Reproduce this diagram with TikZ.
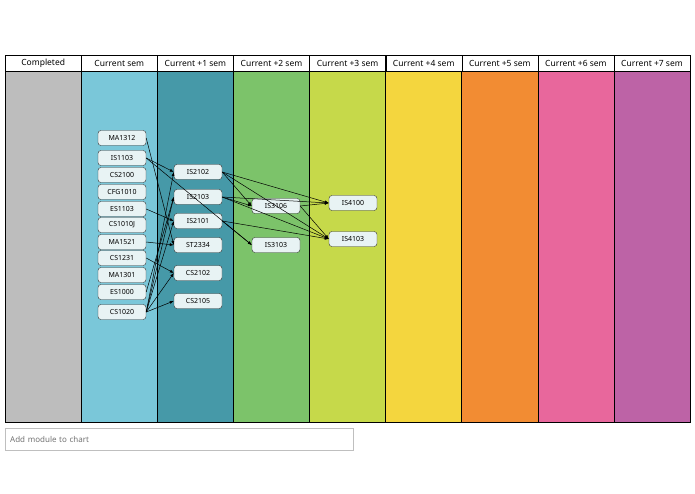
\documentclass[tikz,border=0pt]{standalone}
\usepackage{fontspec}
\setmainfont{Noto Sans}
\usetikzlibrary{arrows.meta}
\definecolor{c1}{HTML}{BDBDBD}\definecolor{c2}{HTML}{7AC7D9}\definecolor{c3}{HTML}{4699A8}
\definecolor{c4}{HTML}{7CC36A}\definecolor{c5}{HTML}{C6D94A}\definecolor{c6}{HTML}{F4D63E}
\definecolor{c7}{HTML}{F28C33}\definecolor{c8}{HTML}{E8679C}\definecolor{c9}{HTML}{BD63A6}
\definecolor{nf}{HTML}{E8F3F4}
\tikzset{mod/.style={draw=black!80,fill=nf,rounded corners=3pt,minimum width=48pt,minimum height=15pt,inner sep=1pt,font=\fontsize{7}{8}\selectfont},
hdr/.style={draw,fill=white,minimum width=76pt,minimum height=16pt,inner sep=0pt,font=\fontsize{8.5}{10}\selectfont},
ed/.style={-{Latex[length=4pt,width=3pt]},black,line width=0.5pt}}
\begin{document}
\begin{tikzpicture}[x=1pt,y=-1pt]
\useasboundingbox[fill=white] (0,0) rectangle (695,494);
\foreach \i/\t in {1/Completed,2/Current sem,3/Current +1 sem,4/Current +2 sem,5/Current +3 sem,6/Current +4 sem,7/Current +5 sem,8/Current +6 sem,9/Current +7 sem}{
  \pgfmathsetmacro\xl{5+(\i-1)*76.1}
  \fill[c\i] (\xl,71) rectangle ++(76.1,351);
  \draw (\xl,71) rectangle ++(76.1,351);
  \node[hdr,anchor=north west] (h\i) at (\xl,55) {\t};
}
\foreach \n/\y in {MA1312/138,IS1103/158,CS2100/175,CFG1010/192,ES1103/209,CS1010J/225,MA1521/242,CS1231/258,MA1301/275,ES1000/292,CS1020/312}
  \node[mod] (\n) at (122,\y) {\n};
\foreach \n/\y in {IS2102/172,IS2103/197,IS2101/221,ST2334/245,CS2102/273,CS2105/301}
  \node[mod] (\n) at (198,\y) {\n};
\foreach \n/\y in {IS3106/206,IS3103/245}
  \node[mod] (\n) at (276,\y) {\n};
\foreach \n/\y in {IS4100/203,IS4103/239}
  \node[mod] (\n) at (353,\y) {\n};
\draw[ed] (MA1312.east) -- (ST2334.west);
\draw[ed] (IS1103.east) -- (IS2102.west);
\draw[ed] (IS1103.east) -- (IS3103.west);
\draw[ed] (ES1103.east) -- (IS2101.west);
\draw[ed] (MA1521.east) -- (ST2334.west);
\draw[ed] (CS1231.east) -- (CS2102.west);
\draw[ed] (ES1000.east) -- (IS2103.west);
\foreach \t in {IS2102,IS2103,IS2101,CS2102,CS2105}
  \draw[ed] (CS1020.east) -- (\t.west);
\foreach \t in {IS3106,IS4100,IS4103}{
  \draw[ed] (IS2102.east) -- (\t.west);
  \draw[ed] (IS2103.east) -- (\t.west);}
\draw[ed] (IS2101.east) -- (IS4103.west);
\draw[ed] (IS2101.east) -- (IS3103.west);
\draw[ed] (IS3106.east) -- (IS4100.west);
\draw[ed] (IS3106.east) -- (IS4103.west);
\node[draw=black!25,fill=white,anchor=north west,minimum width=348pt,minimum height=22pt,text=black!55,font=\fontsize{8}{9}\selectfont,inner sep=5pt,align=left,text width=338pt] (inp) at (5,428) {Add module to chart};
\end{tikzpicture}
\end{document}
